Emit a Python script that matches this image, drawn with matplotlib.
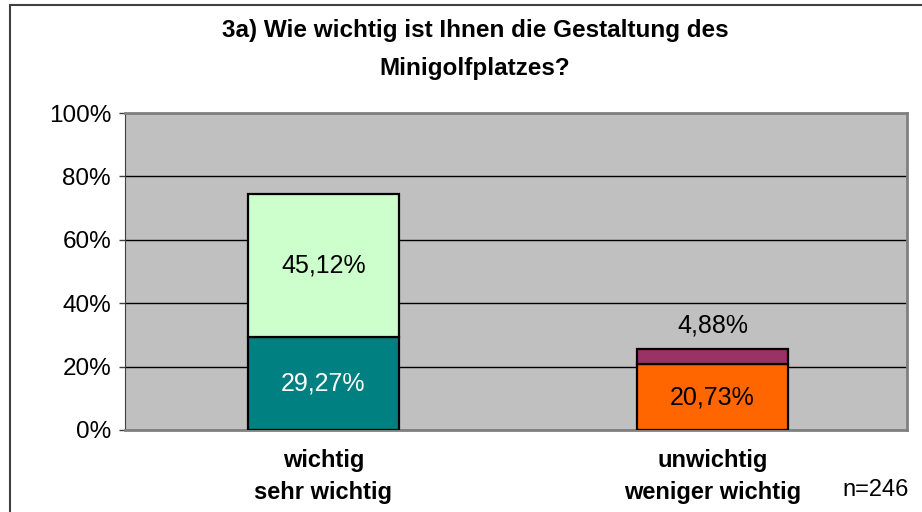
import matplotlib
matplotlib.use("Agg")
import matplotlib.pyplot as plt
from matplotlib.patches import Rectangle
from matplotlib.ticker import PercentFormatter

plt.rcParams['font.family'] = ['Liberation Sans', 'DejaVu Sans']

# Daten
categories = ['wichtig\nsehr wichtig', 'unwichtig\nweniger wichtig']
bottom_values = [29.27, 20.73]   # sehr wichtig / weniger wichtig
top_values = [45.12, 4.88]       # wichtig / unwichtig
bottom_colors = ['#008080', '#FF6600']
top_colors = ['#CCFFCC', '#993366']
bottom_text_colors = ['white', 'black']
n_text = 'n=246'

fig = plt.figure(figsize=(9.22, 5.12), dpi=100)
ax = fig.add_axes([125 / 922, 1 - 430 / 512, 782 / 922, 317 / 512])
ax.set_facecolor('#C0C0C0')

x = list(range(len(categories)))
ax.bar(x, bottom_values, width=0.39, color=bottom_colors,
       edgecolor='black', linewidth=1.6, zorder=3)
ax.bar(x, top_values, width=0.39, bottom=bottom_values, color=top_colors,
       edgecolor='black', linewidth=1.6, zorder=3)

# Beschriftungen der Segmente
for i in x:
    b = bottom_values[i]
    t = top_values[i]
    ax.text(i, b / 2, f'{b:.2f}%'.replace('.', ','), ha='center', va='center',
            fontsize=18, color=bottom_text_colors[i], zorder=4)
    if t > 10:
        ax.text(i, b + t / 2, f'{t:.2f}%'.replace('.', ','), ha='center',
                va='center', fontsize=18, color='black', zorder=4)
    else:
        ax.text(i, b + t + 7.5, f'{t:.2f}%'.replace('.', ','), ha='center',
                va='center', fontsize=18, color='black', zorder=4)

ax.set_xlim(-0.51, 1.5)
ax.set_ylim(0, 100)
ax.set_yticks([0, 20, 40, 60, 80, 100])
ax.yaxis.set_major_formatter(PercentFormatter(decimals=0))
ax.yaxis.grid(True, color='black', linewidth=1, zorder=1)
ax.tick_params(axis='y', direction='out', length=4, width=1, labelsize=17.5,
               pad=6, color='#404040')
ax.set_xticks(x)
ax.set_xticklabels(categories, fontsize=17, fontweight='bold', linespacing=1.5)
ax.tick_params(axis='x', length=0, pad=14)

for side in ['top', 'right']:
    ax.spines[side].set_color('#808080')
    ax.spines[side].set_linewidth(2)
ax.spines['left'].set_color('#404040')
ax.spines['bottom'].set_color('#808080')
ax.spines['bottom'].set_linewidth(2)

fig.text(475 / 922, 1 - 30 / 512, '3a) Wie wichtig ist Ihnen die Gestaltung des',
         ha='center', va='center', fontsize=17.5, fontweight='bold')
fig.text(475 / 922, 1 - 68 / 512, 'Minigolfplatzes?',
         ha='center', va='center', fontsize=17.5, fontweight='bold')
fig.text(876 / 922, 1 - 490 / 512, n_text, ha='center', va='center', fontsize=17)

# Rahmen des Diagramms
fig.patches.append(Rectangle((10 / 922, -0.1), 1.2, 1.1 - 5 / 512,
                             transform=fig.transFigure, fill=False,
                             edgecolor='#404040', linewidth=1.5))

fig.savefig('out.png', dpi=100)
